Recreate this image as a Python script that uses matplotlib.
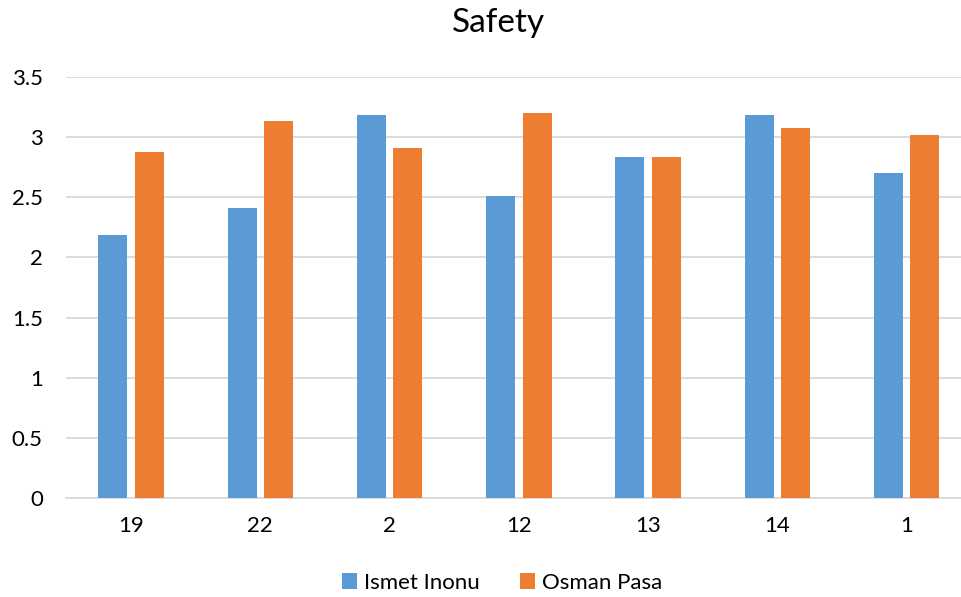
import numpy as np
import matplotlib.pyplot as plt

plt.rcParams['font.family'] = ['Lato', 'DejaVu Sans']

categories = ['19', '22', '2', '12', '13', '14', '1']
ismet_inonu = [2.19, 2.41, 3.19, 2.51, 2.84, 3.19, 2.70]
osman_pasa = [2.88, 3.14, 2.91, 3.20, 2.84, 3.08, 3.02]

x = np.arange(len(categories))
width = 0.224
offset = 0.141

fig = plt.figure(figsize=(9.62, 5.97), dpi=100)
# plot area runs a little past the right edge of the canvas
ax = fig.add_axes([0.0691, 0.1663, 0.9405, 0.7042])

ax.bar(x - offset, ismet_inonu, width, color='#5B9BD5', label='Ismet Inonu', zorder=3)
ax.bar(x + offset, osman_pasa, width, color='#ED7D31', label='Osman Pasa', zorder=3)

ax.set_xlim(-0.5, len(categories) - 0.5)
ax.set_ylim(0, 3.5)
ax.set_yticks(np.arange(0, 3.51, 0.5))
ax.set_yticklabels(['0', '0.5', '1', '1.5', '2', '2.5', '3', '3.5'])
ax.set_xticks(x)
ax.set_xticklabels(categories)

ax.grid(axis='y', color='#D9D9D9', linewidth=1.3, zorder=0)
for side in ['top', 'right', 'left']:
    ax.spines[side].set_visible(False)
ax.spines['bottom'].set_color('#D9D9D9')
ax.spines['bottom'].set_linewidth(1.3)
ax.tick_params(axis='both', length=0, labelsize=16, colors='#000000')
ax.tick_params(axis='x', pad=13)
ax.tick_params(axis='y', pad=17)

fig.text(0.518, 0.962, 'Safety', fontsize=24, ha='center', va='center')

handles, labels = ax.get_legend_handles_labels()
fig.legend(handles, labels, loc='center', bbox_to_anchor=(0.522, 0.024), ncol=2, frameon=False,
           fontsize=16, handlelength=0.7, handleheight=0.7, handletextpad=0.3,
           columnspacing=1.8)

fig.savefig('out.png', dpi=100)
